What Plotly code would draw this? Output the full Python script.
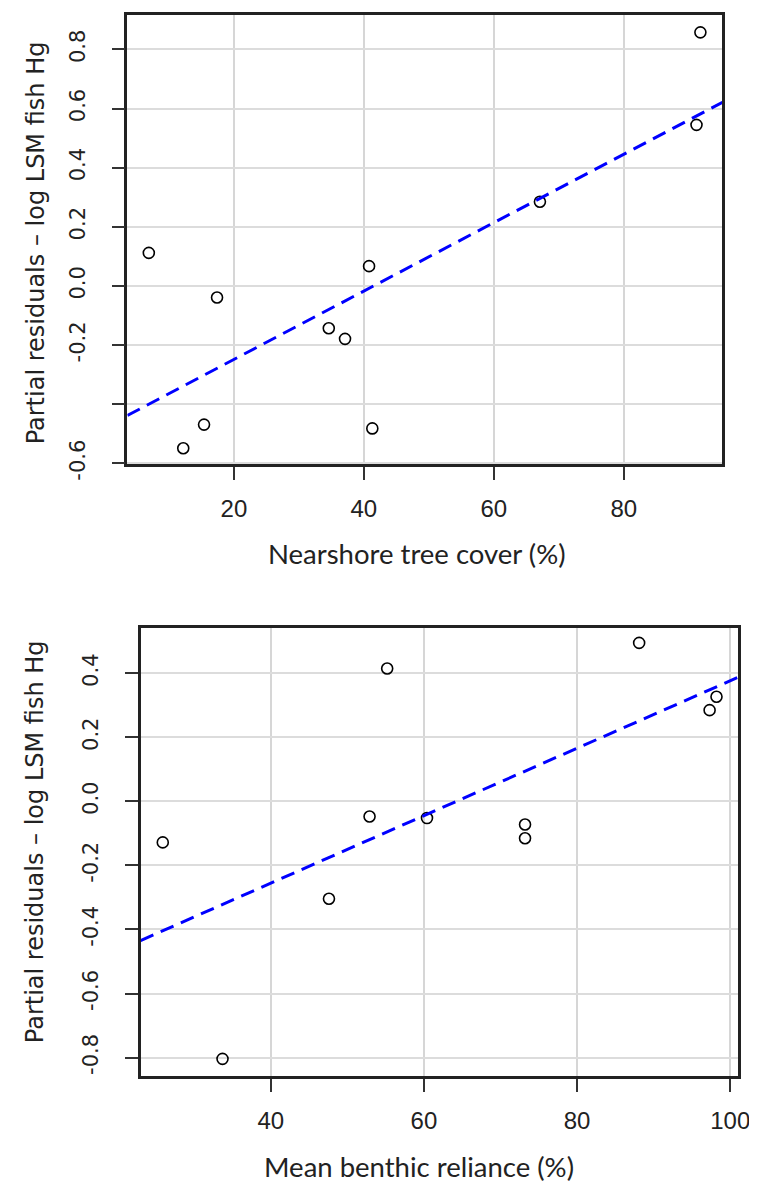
import plotly.graph_objects as go

# ---------------- data ----------------
tree_cover = [6.9, 12.2, 15.4, 17.4, 34.6, 37.1, 40.8, 41.3, 67.1, 91.2, 91.8]
resid_tree = [0.112, -0.549, -0.469, -0.039, -0.143, -0.179, 0.067, -0.482, 0.285, 0.545, 0.858]

benthic = [25.9, 33.7, 47.6, 52.9, 55.2, 60.4, 73.2, 73.2, 88.1, 97.3, 98.2]
resid_benthic = [-0.128, -0.804, -0.304, -0.047, 0.415, -0.052, -0.072, -0.115, 0.495, 0.285, 0.327]

tree_fit = (-0.480, 0.01157)      # intercept, slope
benthic_fit = (-0.677, 0.01054)   # intercept, slope

x1_ticks = [20, 40, 60, 80]
x2_ticks = [40, 60, 80, 100]
y1_ticks = [-0.6, -0.4, -0.2, 0.0, 0.2, 0.4, 0.6, 0.8]
y1_text = ["-0.6", "", "-0.2", "0.0", "0.2", "0.4", "0.6", "0.8"]
y2_ticks = [-0.8, -0.6, -0.4, -0.2, 0.0, 0.2, 0.4]
y2_text = ["-0.8", "-0.6", "-0.4", "-0.2", "0.0", "0.2", "0.4"]

x1_title = "Nearshore tree cover (%)"
x2_title = "Mean benthic reliance (%)"
y_title = "Partial residuals \u2013 log LSM fish Hg"

x1_range = [3.6, 95.2]
y1_range = [-0.604, 0.916]
x2_range = [23.0, 101.0]
y2_range = [-0.858, 0.542]

W, H = 757, 1191

fig = go.Figure()

marker = dict(symbol="circle-open", size=11, color="black", line=dict(width=1.6, color="black"))
dash_line = dict(color="#0000ff", width=3, dash="14px,8px")

fig.add_trace(go.Scatter(x=tree_cover, y=resid_tree, mode="markers", marker=marker,
                         xaxis="x", yaxis="y", showlegend=False, cliponaxis=False))
fig.add_trace(go.Scatter(x=x1_range, y=[tree_fit[0] + tree_fit[1] * v for v in x1_range],
                         mode="lines", line=dash_line, xaxis="x", yaxis="y", showlegend=False))

fig.add_trace(go.Scatter(x=benthic, y=resid_benthic, mode="markers", marker=marker,
                         xaxis="x2", yaxis="y2", showlegend=False, cliponaxis=False))
fig.add_trace(go.Scatter(x=x2_range, y=[benthic_fit[0] + benthic_fit[1] * v for v in x2_range],
                         mode="lines", line=dash_line, xaxis="x2", yaxis="y2", showlegend=False))

common = dict(showline=True, mirror=True, linecolor="#222222", linewidth=2.5,
              ticks="outside", ticklen=13, tickwidth=1.5, tickcolor="#333333",
              showgrid=True, zeroline=False)

xtick_font = dict(family="Liberation Sans", size=24, color="#222222")
ytick_font = dict(family="DejaVu Sans", size=21, color="#222222")

fig.update_layout(
    width=W, height=H,
    margin=dict(l=0, r=0, t=0, b=0),
    paper_bgcolor="white", plot_bgcolor="white",
    xaxis=dict(domain=[121.3 / W, 726 / W], range=x1_range, anchor="y",
               tickvals=x1_ticks, ticktext=[str(v) for v in x1_ticks],
               tickfont=xtick_font, gridcolor="#d6d6d6", gridwidth=1.5,
               ticklabelstandoff=8, **common),
    yaxis=dict(domain=[1 - 462.7 / H, 1 - 7.3 / H], range=y1_range, anchor="x",
               tickvals=y1_ticks, ticktext=y1_text, tickangle=-90,
               tickfont=ytick_font, gridcolor="#dcdcdc", gridwidth=2,
               ticklabelstandoff=18, **common),
    xaxis2=dict(domain=[134.7 / W, 741.7 / W], range=x2_range, anchor="y2",
                tickvals=x2_ticks, ticktext=[str(v) for v in x2_ticks],
                tickfont=xtick_font, gridcolor="#d6d6d6", gridwidth=1.5,
                ticklabelstandoff=8, **common),
    yaxis2=dict(domain=[1 - 1082.7 / H, 1 - 628.3 / H], range=y2_range, anchor="x2",
                tickvals=y2_ticks, ticktext=y2_text, tickangle=-90,
                tickfont=ytick_font, gridcolor="#dcdcdc", gridwidth=2,
                ticklabelstandoff=18, **common),
)

title_font = dict(family="Lato", size=27.5, color="#222222")
ytitle_font = dict(family="DejaVu Sans", size=24, color="#222222")

fig.add_annotation(text=x1_title, xref="paper", yref="paper", x=415.5 / W, y=1 - 553 / H,
                   xanchor="center", yanchor="middle", showarrow=False, font=title_font)
fig.add_annotation(text=x2_title, xref="paper", yref="paper", x=418 / W, y=1 - 1174 / H,
                   xanchor="center", yanchor="middle", showarrow=False, font=title_font)
fig.add_annotation(text=y_title, xref="paper", yref="paper", x=28 / W, y=1 - 238 / H,
                   xanchor="center", yanchor="middle", showarrow=False, textangle=-90,
                   font=ytitle_font)
fig.add_annotation(text=y_title, xref="paper", yref="paper", x=27 / W, y=1 - 845 / H,
                   xanchor="center", yanchor="middle", showarrow=False, textangle=-90,
                   font=ytitle_font)

fig.write_html("out.html")
